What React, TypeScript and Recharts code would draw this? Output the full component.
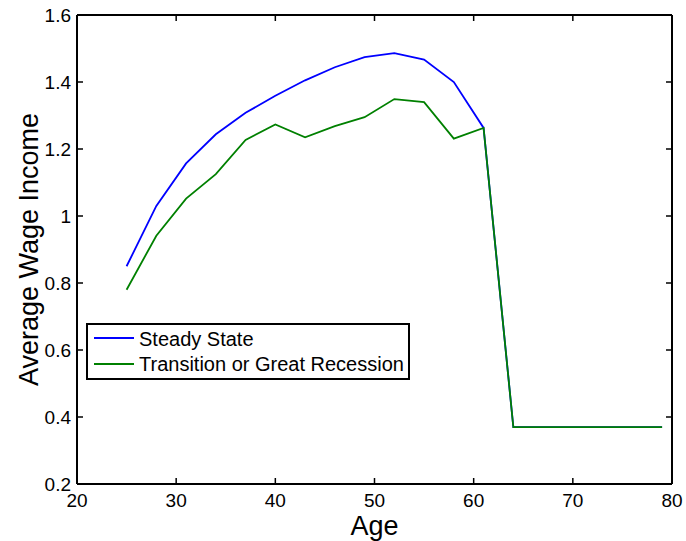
import React from "react";
import { LineChart, Line, XAxis, YAxis, Legend, Label } from "recharts";

const ages = [25, 28, 31, 34, 37, 40, 43, 46, 49, 52, 55, 58, 61, 64, 67, 70, 73, 76, 79];
const steadyState = [0.85, 1.03, 1.157, 1.244, 1.308, 1.359, 1.405, 1.444, 1.474, 1.486, 1.467, 1.4, 1.263, 0.37, 0.37, 0.37, 0.37, 0.37, 0.37];
const transition = [0.78, 0.941, 1.052, 1.125, 1.227, 1.273, 1.235, 1.268, 1.295, 1.349, 1.34, 1.231, 1.263, 0.37, 0.37, 0.37, 0.37, 0.37, 0.37];
const xTicks = [20, 30, 40, 50, 60, 70, 80];
const yTicks = [0.2, 0.4, 0.6, 0.8, 1, 1.2, 1.4, 1.6];
const seriesNames = ["Steady State", "Transition or Great Recession"];
const seriesColors = ["#0000ff", "#008000"];

const data = ages.map((age, i) => ({ age, ss: steadyState[i], tr: transition[i] }));

const FONT = "'Liberation Sans', Arial, Helvetica, sans-serif";
const TICK_LEN = 6;
const MARGIN = 10;

const LegendBox = () => (
  <svg width={324} height={57} style={{ display: "block" }}>
    <rect x={1} y={1} width={322} height={55} fill="#fff" stroke="#000" strokeWidth={2} />
    {seriesNames.map((name, i) => (
      <g key={name}>
        <line x1={8} x2={48} y1={15 + i * 26} y2={15 + i * 26} stroke={seriesColors[i]} strokeWidth={1.8} />
        <text x={53} y={23 + i * 25} fontSize={20} fontFamily={FONT} fill="#000">
          {name}
        </text>
      </g>
    ))}
  </svg>
);

const BottomTick = (props: any) => {
  const { x, y, payload } = props;
  const base = y - MARGIN;
  return (
    <g>
      <line x1={x} x2={x} y1={base} y2={base - TICK_LEN} stroke="#000" strokeWidth={1.5} />
      <text x={x} y={base + 23} textAnchor="middle" fontSize={19} fontFamily={FONT} fill="#000">
        {String(payload.value)}
      </text>
    </g>
  );
};

const TopTick = (props: any) => {
  const { x, y } = props;
  const base = y + MARGIN;
  return <line x1={x} x2={x} y1={base} y2={base + TICK_LEN} stroke="#000" strokeWidth={1.5} />;
};

const LeftTick = (props: any) => {
  const { x, y, payload } = props;
  const base = x + MARGIN;
  return (
    <g>
      <line x1={base} x2={base + TICK_LEN} y1={y} y2={y} stroke="#000" strokeWidth={1.5} />
      <text x={base - 6} y={y + 7} textAnchor="end" fontSize={19} fontFamily={FONT} fill="#000">
        {String(payload.value)}
      </text>
    </g>
  );
};

const RightTick = (props: any) => {
  const { x, y } = props;
  const base = x - MARGIN;
  return <line x1={base} x2={base - TICK_LEN} y1={y} y2={y} stroke="#000" strokeWidth={1.5} />;
};

export default function App() {
  const axisLine = { stroke: "#000", strokeWidth: 2 };
  return (
    <div style={{ position: "absolute", left: 0, top: 0, background: "#fff" }}>
      <LineChart width={686} height={541} data={data} margin={{ top: 14, right: 13, bottom: 0, left: 0 }}>
        <XAxis
          xAxisId="bottom"
          dataKey="age"
          type="number"
          domain={[20, 80]}
          allowDataOverflow
          ticks={xTicks}
          height={57}
          tickSize={0}
          tickMargin={MARGIN}
          axisLine={axisLine}
          tickLine={false}
          tick={BottomTick}
          interval={0}
        >
          <Label
            content={(props: any) => {
              const vb = props.viewBox;
              return (
                <text x={vb.x + vb.width / 2} y={vb.y + 51} textAnchor="middle" fontSize={27} fontFamily={FONT} fill="#000">
                  Age
                </text>
              );
            }}
          />
        </XAxis>
        <XAxis
          xAxisId="top"
          dataKey="age"
          type="number"
          orientation="top"
          domain={[20, 80]}
          allowDataOverflow
          ticks={xTicks}
          height={1}
          tickSize={0}
          tickMargin={MARGIN}
          axisLine={axisLine}
          tickLine={false}
          tick={TopTick}
          interval={0}
        />
        <YAxis
          yAxisId="left"
          type="number"
          domain={[0.2, 1.6]}
          allowDataOverflow
          ticks={yTicks}
          width={77}
          tickSize={0}
          tickMargin={MARGIN}
          axisLine={axisLine}
          tickLine={false}
          tick={LeftTick}
          interval={0}
        >
          <Label
            content={(props: any) => {
              const vb = props.viewBox;
              const cx = vb.x + 29;
              const cy = vb.y + vb.height / 2;
              return (
                <text
                  x={cx}
                  y={cy}
                  transform={`rotate(-90, ${cx}, ${cy})`}
                  textAnchor="middle"
                  dominantBaseline="central"
                  fontSize={27}
                  fontFamily={FONT}
                  fill="#000"
                >
                  Average Wage Income
                </text>
              );
            }}
          />
        </YAxis>
        <YAxis
          yAxisId="right"
          type="number"
          orientation="right"
          domain={[0.2, 1.6]}
          allowDataOverflow
          ticks={yTicks}
          width={1}
          tickSize={0}
          tickMargin={MARGIN}
          axisLine={axisLine}
          tickLine={false}
          tick={RightTick}
          interval={0}
        />
        <Line
          xAxisId="top"
          yAxisId="right"
          dataKey="ss"
          stroke="none"
          strokeWidth={0}
          dot={false}
          activeDot={false}
          legendType="none"
          isAnimationActive={false}
        />
        <Line
          xAxisId="bottom"
          yAxisId="left"
          dataKey="ss"
          name={seriesNames[0]}
          stroke={seriesColors[0]}
          strokeWidth={1.8}
          dot={false}
          isAnimationActive={false}
        />
        <Line
          xAxisId="bottom"
          yAxisId="left"
          dataKey="tr"
          name={seriesNames[1]}
          stroke={seriesColors[1]}
          strokeWidth={1.8}
          dot={false}
          isAnimationActive={false}
        />
        <Legend
          layout="vertical"
          align="center"
          verticalAlign="middle"
          content={() => <LegendBox />}
          wrapperStyle={{ position: "absolute", left: 86, top: 323, width: 324, height: 57 }}
        />
      </LineChart>
    </div>
  );
}
